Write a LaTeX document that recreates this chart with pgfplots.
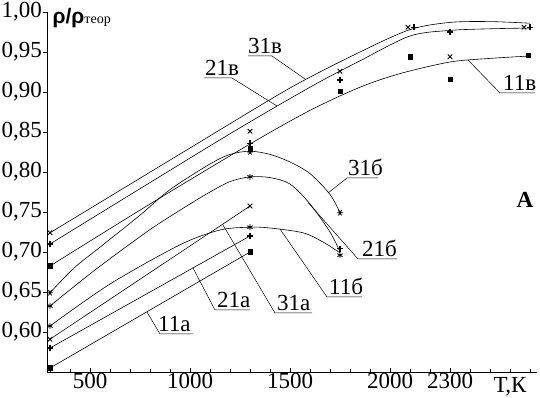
\documentclass[border=0pt]{standalone}
\usepackage{fontspec}
\setmainfont{Liberation Serif}
\newfontfamily\sansf{Liberation Sans}
\usepackage{pgfplots}
\pgfplotsset{compat=1.18}
\newcommand{\lf}{\fontsize{23}{26}\selectfont}
\begin{document}
\begin{tikzpicture}
\begin{axis}[
 scale only axis, width=490pt, height=360pt,
 xmin=285, xmax=2735, ymin=0.55, ymax=1.0,
 axis lines=left, axis line style={-, line width=0.8pt},
 xtick={500,1000,1500,2000,2300},
 xticklabels={500,1000,1500,2000,2300},
 minor xtick={300,400,...,2700},
 ytick={0.60,0.65,0.70,0.75,0.80,0.85,0.90,0.95,1.00},
 yticklabels={{0,60},{0,65},{0,70},{0,75},{0,80},{0,85},{0,90},{0,95},{1,00}},
 tick label style={font=\lf, inner sep=1pt},
 tick style={black, line width=0.6pt},
 xtick align=inside, ytick align=outside,
 major tick length=4pt, minor tick length=3pt,
 clip=false,
 every axis plot/.append style={black, line width=0.6pt},
]
\coordinate (bl) at (rel axis cs:0,0);
% --- curves v
\addplot[smooth] coordinates {(300,0.724) (1000,0.830) (1500,0.905) (1850,0.950) (2100,0.978) (2300,0.987) (2500,0.988) (2700,0.986)};
\addplot[smooth] coordinates {(300,0.710) (1165,0.8425) (1600,0.906) (1850,0.939) (2100,0.970) (2300,0.977) (2500,0.979) (2700,0.980)};
\addplot[smooth] coordinates {(300,0.6825) (800,0.760) (1300,0.835) (1600,0.877) (1850,0.906) (2050,0.923) (2300,0.9375) (2500,0.942) (2700,0.945)};
% --- curves b
\addplot[smooth] coordinates {(300,0.649) (420,0.680) (550,0.706) (750,0.746) (900,0.778) (1100,0.810) (1200,0.822) (1300,0.826) (1400,0.822) (1500,0.8125) (1600,0.798) (1700,0.772) (1750,0.749)};
\addplot[smooth] coordinates {(300,0.6325) (525,0.6775) (800,0.728) (1000,0.760) (1100,0.775) (1200,0.788) (1300,0.794) (1400,0.793) (1500,0.785) (1600,0.760) (1700,0.725) (1750,0.700)};
\addplot[smooth] coordinates {(300,0.6075) (600,0.660) (950,0.709) (1150,0.7275) (1300,0.731) (1400,0.730) (1565,0.724) (1665,0.7125) (1750,0.699)};
% --- lines a
\addplot[sharp plot] coordinates {(300,0.591) (1300,0.7575)};
\addplot[sharp plot] coordinates {(300,0.580) (1300,0.720)};
\addplot[sharp plot] coordinates {(300,0.555) (1300,0.700)};
% --- markers
\addplot[only marks, mark=x, mark size=3.2pt, line width=0.9pt] coordinates {(300,0.724) (300,0.591) (1300,0.851) (1300,0.7575) (1750,0.926) (2090,0.981) (2300,0.944) (2670,0.981)};
\addplot[only marks, mark=+, mark size=3pt, line width=1.1pt] coordinates {(300,0.710) (300,0.580) (1300,0.836) (1300,0.720) (1750,0.915) (1750,0.704) (2120,0.981) (2300,0.975) (2700,0.981)};
\addplot[only marks, mark=square*, mark size=2.2pt] coordinates {(300,0.6825) (300,0.555) (1300,0.829) (1300,0.700) (1750,0.901) (2100,0.944) (2300,0.916) (2690,0.946)};
\addplot[only marks, mark=asterisk, mark size=3pt, mark options={rotate=90}, line width=0.9pt] coordinates {(300,0.649) (1300,0.825) (1750,0.749)};
\addplot[only marks, mark=asterisk, mark size=3pt, line width=0.9pt] coordinates {(300,0.6325) (300,0.6075) (1300,0.794) (1300,0.731) (1750,0.696)};
% --- leaders and labels
\draw[line width=0.5pt] (axis cs:1290,0.945) -- (axis cs:1410,0.945) -- (axis cs:1575,0.91625);
\node[anchor=base west, inner sep=0, font=\lf] at (axis cs:1290,0.948) {31в};
\draw[line width=0.5pt] (axis cs:1070,0.9175) -- (axis cs:1210,0.9175) -- (axis cs:1435,0.8825);
\node[anchor=base west, inner sep=0, font=\lf] at (axis cs:1075,0.9206) {21в};
\draw[line width=0.5pt] (axis cs:2390,0.94) -- (axis cs:2550,0.89875) -- (axis cs:2725,0.89875);
\node[anchor=base west, inner sep=0, font=\lf] at (axis cs:2565,0.9019) {11в};
\draw[line width=0.5pt] (axis cs:1690,0.77375) -- (axis cs:1785,0.7925) -- (axis cs:1940,0.7925);
\node[anchor=base west, inner sep=0, font=\lf] at (axis cs:1790,0.7956) {31б};
\draw[line width=0.5pt] (axis cs:1590,0.762) -- (axis cs:1840,0.69125) -- (axis cs:2035,0.69125);
\node[anchor=base west, inner sep=0, font=\lf] at (axis cs:1860,0.6944) {21б};
\draw[line width=0.5pt] (axis cs:1450,0.72875) -- (axis cs:1685,0.64375) -- (axis cs:1860,0.64375);
\node[anchor=base west, inner sep=0, font=\lf] at (axis cs:1695,0.6469) {11б};
\draw[line width=0.5pt] (axis cs:1165,0.73375) -- (axis cs:1425,0.62375) -- (axis cs:1610,0.62375);
\node[anchor=base west, inner sep=0, font=\lf] at (axis cs:1435,0.6269) {31а};
\draw[line width=0.5pt] (axis cs:1015,0.68) -- (axis cs:1125,0.6275) -- (axis cs:1300,0.6275);
\node[anchor=base west, inner sep=0, font=\lf] at (axis cs:1135,0.6306) {21а};
\draw[line width=0.5pt] (axis cs:785,0.625) -- (axis cs:850,0.5975) -- (axis cs:1015,0.5975);
\node[anchor=base west, inner sep=0, font=\lf] at (axis cs:840,0.6006) {11а};
\node[anchor=base, inner sep=0, font=\lf\bfseries] at (axis cs:2675,0.755) {А};
\node[anchor=base, inner sep=0, font=\lf, yshift=-20pt] at (axis cs:2600,0.55) {Т,К};
\node[anchor=base west, inner sep=0] at (axis cs:312,0.986) {{\sansf\bfseries\fontsize{21}{24}\selectfont ρ/ρ}{\fontsize{14}{16}\selectfont теор}};
\end{axis}
\pgfresetboundingbox
\path (bl) ++(-47pt,-26pt) rectangle ++(540pt,398pt);
\end{tikzpicture}
\end{document}
